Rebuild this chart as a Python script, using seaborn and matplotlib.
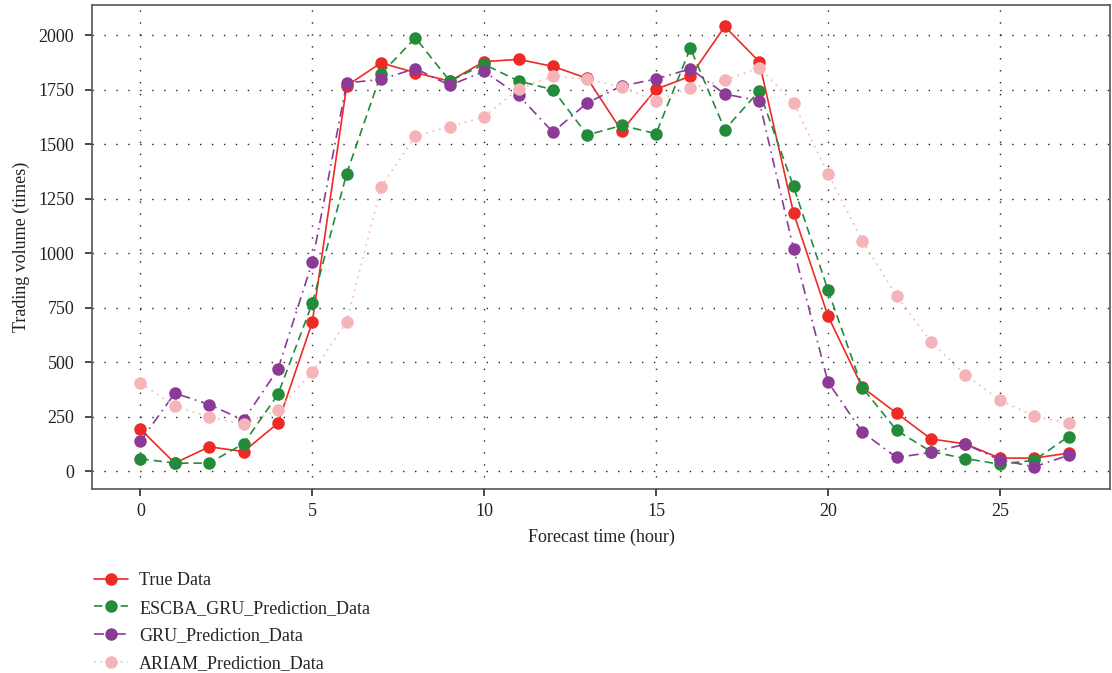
import matplotlib
matplotlib.use("Agg")
import matplotlib.pyplot as plt
import seaborn as sns

# ---------------------------------------------------------------- data
hours = list(range(28))
true_data = [193, 37, 112, 90, 220, 684, 1769, 1874, 1829, 1790, 1880, 1890, 1858, 1803,
             1562, 1753, 1813, 2041, 1880, 1185, 713, 385, 266, 148, 125, 60, 60, 83]
escba_gru = [57, 37, 37, 126, 352, 770, 1366, 1824, 1989, 1791, 1867, 1791, 1751, 1543,
             1587, 1549, 1942, 1568, 1745, 1307, 832, 384, 187, 90, 58, 32, 50, 159]
gru = [138, 358, 306, 234, 467, 960, 1782, 1798, 1848, 1771, 1835, 1725, 1556, 1691,
       1768, 1800, 1847, 1731, 1700, 1021, 410, 179, 63, 86, 124, 52, 20, 73]
ariam = [404, 300, 248, 216, 282, 453, 686, 1305, 1538, 1582, 1627, 1755, 1812, 1801,
         1762, 1700, 1759, 1794, 1852, 1691, 1366, 1058, 804, 593, 442, 326, 254, 219]

series = [
    ("True Data", true_data, "#ee2a24", "-"),
    ("ESCBA_GRU_Prediction_Data", escba_gru, "#238b3a", (0, (5, 3))),
    ("GRU_Prediction_Data", gru, "#8b3a96", (0, (6, 3, 1, 3))),
    ("ARIAM_Prediction_Data", ariam, "#f5b3ba", (0, (1, 3))),
]

sns.set_theme(style="ticks")
plt.rcParams["font.family"] = ["Liberation Serif", "DejaVu Serif"]

fig = plt.figure(figsize=(11.12, 6.73), dpi=100)
ax = fig.add_axes([0.083, 0.273, 0.915, 0.720])

for name, vals, col, ls in series:
    sns.lineplot(x=hours, y=vals, ax=ax, color=col, linestyle=ls, linewidth=1.2,
                 marker="o", markersize=9, markeredgewidth=0, label=name)

ax.set_xlim(-1.4, 28.2)
ax.set_ylim(-83, 2141)
ax.set_xticks([0, 5, 10, 15, 20, 25])
ax.set_yticks([0, 250, 500, 750, 1000, 1250, 1500, 1750, 2000])
ax.grid(True, color="#222222", linestyle=(0, (1, 7.6)), linewidth=1.0)
ax.tick_params(direction="out", length=5, labelsize=13, colors="#333333",
               labelcolor="#222222")
ax.tick_params(axis="y", pad=8)
ax.tick_params(axis="x", pad=5)
for s in ax.spines.values():
    s.set_color("#555555")
    s.set_linewidth(1.2)
    s.set_visible(True)

ax.set_xlabel("Forecast time (hour)", fontsize=13, color="#222222", labelpad=6)
ax.set_ylabel("Trading volume (times)", fontsize=13, color="#222222", labelpad=6)

handles, labels = ax.get_legend_handles_labels()
ax.get_legend().remove()
fig.legend(handles, labels, loc="upper left", bbox_to_anchor=(0.078, 0.161),
           frameon=False, fontsize=13, labelspacing=0.6, handlelength=1.9,
           handletextpad=0.6, borderaxespad=0)

fig.savefig("out.png", dpi=100)
